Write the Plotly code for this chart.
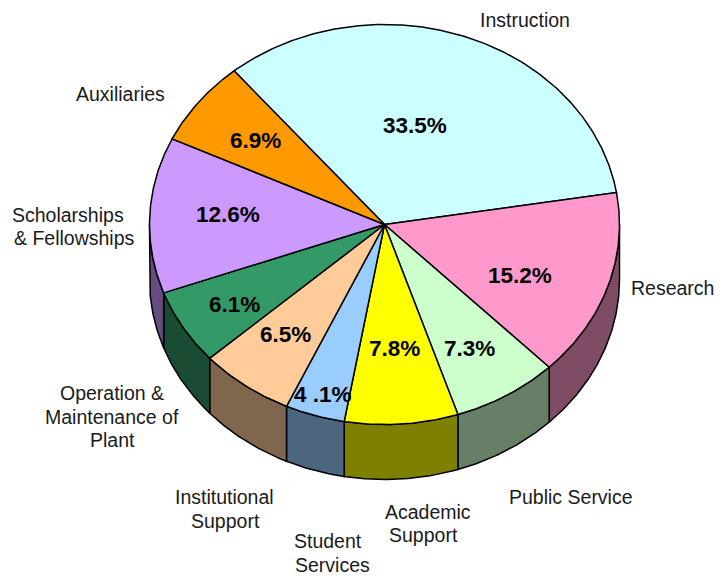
import numpy as np
import plotly.graph_objects as go

# Expenditure shares by function, clockwise from the top slice
categories = ["Instruction", "Research", "Public Service", "Academic Support",
              "Student Services", "Institutional Support",
              "Operation & Maintenance of Plant", "Scholarships & Fellowships",
              "Auxiliaries"]
shares = [33.5, 15.2, 7.3, 7.8, 4.1, 6.5, 6.1, 12.6, 6.9]
value_texts = ["33.5%", "15.2%", "7.3%", "7.8%", "4 .1%", "6.5%", "6.1%", "12.6%", "6.9%"]
top_colors = ["#CCFFFF", "#FF99CC", "#CCFFCC", "#FFFF00", "#99CCFF",
              "#FFCC99", "#339966", "#CC99FF", "#FF9900"]
wall_colors = ["#667F7F", "#7F4C66", "#667F66", "#7F7F00", "#4C667F",
               "#7F664C", "#194C33", "#664C7F", "#7F4C00"]

# Pie geometry on a pixel-sized coordinate system
CX, CY, RX, RY, DEPTH = 384.5, 224.5, 235, 200, 55
START = -39.8

# Text placement: (x, y) centres, one entry per printed line
value_pos = [(415, 125), (520, 275), (469, 348), (394, 348), (323, 394),
             (285, 334), (234, 304), (228, 214), (255, 140)]
name_lines = ["Instruction", "Research", "Public Service",
              "Academic", "Support", "Student", "Services",
              "Institutional", "Support",
              "Operation &", "Maintenance of", "Plant",
              "Scholarships", "& Fellowships", "Auxiliaries"]
name_pos = [(525, 20), (672, 288), (571, 497),
            (428, 512), (423, 535), (328, 541), (332, 565),
            (224, 497), (225, 521),
            (112, 393), (112, 417), (112, 440),
            (68, 215), (74, 238), (120, 94)]


def rim(a, b):
    t = np.radians(np.linspace(a, b, max(2, int(abs(b - a) * 2) + 1)))
    return CX + RX * np.sin(t), CY - RY * np.cos(t)


fig = go.Figure()
edges = START + np.concatenate([[0], np.cumsum(shares)]) * 3.6

# Side walls: only the part of each slice on the near half of the rim
for a, b, col in zip(edges[:-1], edges[1:], wall_colors):
    lo, hi = max(a, 90), min(b, 270)
    if lo >= hi:
        continue
    x, y = rim(lo, hi)
    fig.add_trace(go.Scatter(
        x=np.concatenate([x, x[::-1], x[:1]]),
        y=np.concatenate([y, y[::-1] + DEPTH, y[:1]]),
        mode="lines", fill="toself", fillcolor=col,
        line=dict(color="black", width=1.5), hoverinfo="skip"))

# Top faces
for a, b, col, name in zip(edges[:-1], edges[1:], top_colors, categories):
    x, y = rim(a, b)
    fig.add_trace(go.Scatter(
        x=np.concatenate([[CX], x, [CX]]),
        y=np.concatenate([[CY], y, [CY]]),
        mode="lines", fill="toself", fillcolor=col, name=name,
        line=dict(color="black", width=1.5), hoverinfo="skip"))

for (x, y), t in zip(value_pos, value_texts):
    fig.add_annotation(x=x, y=y, text=t, showarrow=False,
                       font=dict(family="Liberation Sans", size=22.5, color="black", weight="bold"))
for (x, y), t in zip(name_pos, name_lines):
    fig.add_annotation(x=x, y=y, text=t, showarrow=False,
                       font=dict(family="Liberation Sans", size=19.5, color="#1a1a1a"))

fig.update_layout(
    width=723, height=576, margin=dict(l=0, r=0, t=0, b=0),
    paper_bgcolor="white", plot_bgcolor="white", showlegend=False,
    xaxis=dict(range=[0, 723], visible=False, fixedrange=True),
    yaxis=dict(range=[576, 0], visible=False, fixedrange=True),
)
fig.write_html("out.html", config=dict(displayModeBar=False))
